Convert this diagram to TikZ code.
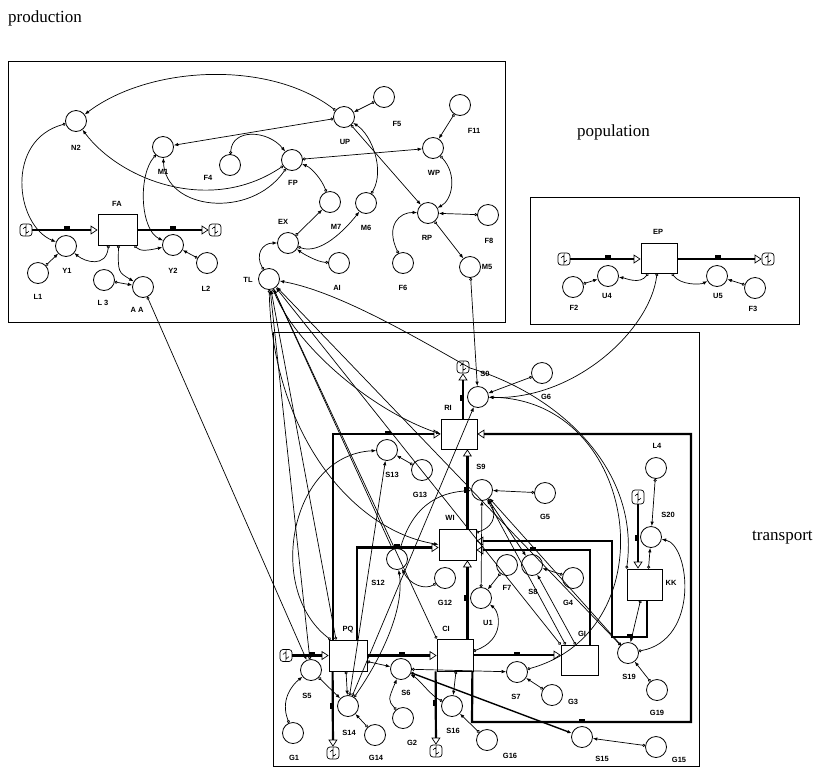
\documentclass[tikz,border=0pt]{standalone}
\usepackage{fontspec}
\setmainfont{Liberation Serif}
\setsansfont{Liberation Sans}
\usetikzlibrary{arrows.meta}
\begin{document}
\begin{tikzpicture}[x=1pt,y=-1pt,
 aux/.style={draw,circle,minimum size=21pt,inner sep=0pt,line width=0.8pt},
 stock/.style={draw,rectangle,inner sep=0pt,line width=0.8pt},
 lab/.style={font=\sffamily\bfseries\fontsize{7.5}{8}\selectfont,inner sep=0pt},
 ttl/.style={font=\fontsize{17}{20}\selectfont,inner sep=0pt},
 frame/.style={draw,line width=0.9pt},
 pipe/.style={line width=2.2pt},
 pipeA/.style={pipe,-{Triangle[open,length=7pt,width=9pt,line width=0.7pt]}},
 src/.style={draw,rounded corners=3pt,minimum width=12pt,minimum height=12pt,inner sep=0pt,line width=0.7pt,fill=white,
   path picture={\draw[line width=0.6pt] ([shift={(-3pt,1pt)}]path picture bounding box.center) arc[start angle=180,end angle=0,radius=1.5pt] -- ++(0,-2pt) arc[start angle=180,end angle=360,radius=1.5pt];}},
 conn/.style={line width=0.7pt,{Circle[open,length=3pt,width=3pt]}-{Latex[length=4.5pt,width=3.5pt]}},
 valveh/.style={fill=black,inner sep=0pt,minimum width=6pt,minimum height=4pt},
 valvev/.style={fill=black,inner sep=0pt,minimum width=4pt,minimum height=6pt},
]
\useasboundingbox (0,0) rectangle (837,769);
% titles
\node[ttl,anchor=west] (tprod) at (8,18) {production};
\node[ttl,anchor=west] (tpop) at (577,132) {population};
\node[ttl,anchor=west] (ttra) at (752,538) {transport};
% frames
\draw[frame] (8,61) rectangle (505,322);
\draw[frame] (530,197) rectangle (799,324);
\draw[frame] (273,332) rectangle (699,766);
% ---------- production ----------
\foreach \n/\x/\y in {N2/76/121,M1/163/147,F4/230/165,Y1/66/246,L1/38/273,Y2/173/245,L2/207/263,L3/104/280,AA/143/287,TL/269/279,UP/344/117,F5/384/97,F11/460/105,WP/433/148,FP/292/160,M7/330/202,M6/366/203,EX/288/243,AI/339/263,RP/428/213,F8/488/215,F6/403/263,M5/470/267}
  \node[aux] (\n) at (\x,\y) {};
\node[stock,minimum width=39pt,minimum height=31pt] (FA) at (117.5,229.5) {};
\node[src] (C1) at (26,230) {};
\node[src] (C2) at (215,230) {};
% ---------- population ----------
\foreach \n/\x/\y in {U4/608/276,F2/573/287,U5/717/276,F3/755/288}
  \node[aux] (\n) at (\x,\y) {};
\node[stock,minimum width=36pt,minimum height=30pt] (EP) at (659,258) {};
\node[src] (C3) at (564,259) {};
\node[src] (C4) at (768,259) {};
% ---------- transport ----------
\foreach \n/\x/\y in {S0/478/397,G6/542/373,S13/387/450,G13/422/470,S9/482/490,G5/545/493,S12/397/559,G12/445/578,F7/507/565,S8/532/565,G4/573/578,U1/481/598,L4/656/468,S20/651/537,S5/311/670,G1/293/733,S14/348/706,G14/375/735,S6/401/669,G2/403/718,S16/452/706,G16/487/740,S7/517/672,G3/552/695,S19/628/653,G19/657/690,S15/582/737,G15/656/747}
  \node[aux] (\n) at (\x,\y) {};
\node[stock,minimum width=36pt,minimum height=30pt] (RI) at (459,434) {};
\node[stock,minimum width=37pt,minimum height=31pt] (WI) at (457.5,544.5) {};
\node[stock,minimum width=38pt,minimum height=31pt] (PQ) at (348,655.5) {};
\node[stock,minimum width=36pt,minimum height=32pt] (CI) at (455,655) {};
\node[stock,minimum width=37pt,minimum height=30pt] (GI) at (579.5,660) {};
\node[stock,minimum width=35pt,minimum height=31pt] (KK) at (644.5,584.5) {};
\node[src] (C5) at (463,367) {};
\node[src] (C6) at (286,655.5) {};
\node[src] (C7) at (333,753) {};
\node[src] (C8) at (436,751) {};
\node[src,minimum height=14pt] (C9) at (638,497) {};
% labels
\foreach \t/\x/\y in {N2/76/148,M1/163/172,F4/208/178,FA/117/204,Y1/67/271,L1/38/297,Y2/173/271,L2/206/289,L 3/103/303,A A/137/310,TL/248/280,UP/345/142,F5/397/124,F11/474/131,WP/434/173,FP/293/183,M7/336/227,M6/366/228,EX/283/222,AI/337/288,RP/427/238,F8/489/241,F6/403/288,M5/487/267,EP/658/232,U4/607/296,F2/574/308,U5/718/296,F3/753/309,S0/485/374,G6/546/397,RI/448/408,S13/392/475,G13/420/495,S9/481/467,G5/545/517,WI/450/518,S12/378/583,G12/445/603,F7/507/588,S8/533/592,G4/568/603,U1/488/623,L4/657/446,S20/668/515,KK/671/583,PQ/348/630,CI/446/629,GI/582/634,S5/307/696,G1/294/758,S14/349/733,G14/376/758,S6/406/693,G2/412/743,S16/453/731,G16/510/756,S7/516/697,G3/573/702,S19/629/677,G19/657/713,S15/602/759,G15/679/760}
  \node[lab] (l\x\y) at (\x,\y) {\t};
% ---------- pipes ----------
\draw[pipeA] (C1) -- (FA.west |- C1);
\draw[pipeA] (FA.east |- C2) -- (C2);
\draw[pipeA] (C3) -- (EP.west |- C3);
\draw[pipeA] (EP.east |- C4) -- (C4);
\draw[pipeA] ([xshift=4pt]RI.north) -- (C5);
\draw[pipeA] ([xshift=4pt]PQ.north west) |- (RI.west);
\draw[pipeA] ([xshift=28pt]PQ.north west) |- ([yshift=-3pt]WI.west);
\draw[pipeA] ([xshift=-6pt]CI.north east) -- ([xshift=-6pt]CI.north east |- WI.south);
\draw[pipeA] ([xshift=-9pt]WI.north east) -- ([xshift=-9pt]WI.north east |- RI.south);
\draw[pipeA] ([xshift=-1pt]CI.south east) -- (472,722) -- (691,722) -- (691,434) -- (RI.east);
\draw[pipeA] ([xshift=10.5pt]GI.north) -- (590,550) -- ([yshift=-5.5pt]WI.east);
\draw[pipeA] ([xshift=2.5pt]KK.south) -- (647,637) -- (612,637) -- (612,541) -- ([yshift=3.5pt]WI.east);
\draw[pipeA] (PQ.east) -- (PQ.east -| CI.west);
\draw[pipeA] (CI.east) -- (CI.east -| GI.west);
\draw[pipeA] (C6) -- (PQ.west);
\draw[pipeA] ([xshift=4pt]PQ.south west) -- (C7);
\draw[pipeA] ([xshift=-1pt]CI.south west) -- (C8);
\draw[pipeA] (C9) -- (C9 |- KK.north);
% valves
\foreach \v/\x/\y in {a/67/228,b/173/228,c/608/257,d/718/257,e/388/433,f/397/546,g/582/721,h/533/549,i/630/636,j/402/654,k/517/654,l/312/654}
  \node[valveh] (v\v) at (\x,\y) {};
\foreach \v/\x/\y in {m/462/398,n/466/598,o/466/490,p/332/706,q/435/703,r/637/538}
  \node[valvev] (v\v) at (\x,\y) {};
% ---------- connectors: production ----------
\draw[conn] (UP) .. controls (270,60) and (150,65) .. (N2);
\draw[conn] (FP) .. controls (210,215) and (120,180) .. (N2);
\draw[conn] (UP) -- (M1);
\draw[conn] (F4) .. controls (232,128) and (268,130) .. (FP);
\draw[conn] (FP) .. controls (250,220) and (165,210) .. (M1);
\draw[conn] (N2) .. controls (5,140) and (15,225) .. (Y1);
\draw[conn] (M1) .. controls (138,175) and (140,230) .. (Y2);
\draw[conn] (L1) -- (Y1);
\draw[conn] ([xshift=-9pt]FA.south) .. controls (106,268) and (85,262) .. (Y1);
\draw[conn] ([xshift=17pt]FA.south) .. controls (140,252) and (150,250) .. (Y2);
\draw[conn] ([xshift=1pt]FA.south) .. controls (118,272) .. (AA);
\draw[conn] (L3) -- (AA);
\draw[conn] (L2) -- (Y2);
\draw[conn] (AA) -- (S5);
\draw[conn] (F5) -- (UP);
\draw[conn] (FP) -- (WP);
\draw[conn] (UP) -- (RP);
\draw[conn] (M6) .. controls (385,170) and (372,135) .. (UP);
\draw[conn] (F11) -- (WP);
\draw[conn] (WP) .. controls (458,175) and (452,200) .. (RP);
\draw[conn] (F8) -- (RP);
\draw[conn] (F6) .. controls (385,225) and (400,212) .. (RP);
\draw[conn] (RP) -- (M5);
\draw[conn] (M7) .. controls (322,180) and (312,168) .. (FP);
\draw[conn] (EX) -- (M7);
\draw[conn] (EX) .. controls (320,255) and (345,230) .. (M6);
\draw[conn] (AI) .. controls (318,262) and (305,255) .. (EX);
\draw[conn] (TL) .. controls (255,255) and (262,243) .. (EX);
\draw[conn] (M5) -- (S0);
% ---------- connectors: population ----------
\draw[conn] (F2) -- (U4);
\draw[conn] (F3) -- (U5);
\draw[conn] ([xshift=-11pt]EP.south) .. controls (640,285) and (625,278) .. (U4);
\draw[conn] ([xshift=13pt]EP.south) .. controls (680,285) and (700,285) .. (U5);
\draw[conn] ([xshift=-2pt]EP.south) .. controls (650,330) and (575,400) .. (S0);
% ---------- connectors: transport ----------
\draw[conn] (G6) -- (S0);
\draw[conn] (KK.north west) .. controls (640,470) and (560,395) .. (470,368) .. controls (420,340) and (340,292) .. (TL);
\draw[conn] (S7) .. controls (670,630) and (640,400) .. (S0);
\draw[conn] (G13) -- (S13);
\draw[conn] ([xshift=2pt]PQ.north west) .. controls (265,590) and (290,455) .. (S13);
\draw[conn] (S14) -- (S13);
\draw[conn] (S14) -- (S0);
\draw[conn] (G5) -- (S9);
\draw[conn] (U1) -- (S9);
\draw[conn] ([yshift=-4pt]WI.north east) .. controls (498,525) and (495,510) .. (S9);
\draw[conn] ([xshift=-14pt]GI.north) -- (S9);
\draw[conn] (S19) -- (S9);
\draw[conn] (S9) -- (S8);
\draw[conn] (G4) -- (S8);
\draw[conn] ([xshift=-4pt]GI.north) -- (S8);
\draw[conn] (F7) -- (U1);
\draw[conn] ([yshift=4pt]CI.east) .. controls (505,640) and (500,612) .. (U1);
\draw[conn] (G12) .. controls (425,590) and (410,585) .. (S12);
\draw[conn] (S14) .. controls (380,660) and (405,610) .. (S12);
\draw[conn] (S12) .. controls (415,500) and (445,492) .. (S9);
\draw[conn] (TL) .. controls (295,345) and (370,410) .. (RI.west);
\draw[conn] (TL) .. controls (272,430) and (350,530) .. (WI.west);
\draw[conn] ([xshift=-12pt]PQ.north) -- (TL);
\draw[conn] (S5) -- (TL);
\draw[conn] (S12) -- (TL);
\draw[conn] (GI.north west) -- (TL);
\draw[conn] (S19) -- (TL);
\draw[conn] (CI.north west) -- (TL);
\draw[conn] (G1) .. controls (280,700) and (292,685) .. (S5);
\draw[conn] ([xshift=-2pt]PQ.south) -- (S14);
\draw[conn] (S5) -- (S14);
\draw[conn] (G14) -- (S14);
\draw[conn] (G2) .. controls (388,700) .. (S6);
\draw[conn] ([yshift=-6pt]PQ.east) -- (S6);
\draw[conn] (S16) .. controls (430,695) and (420,680) .. (S6);
\draw[conn] ([xshift=1pt]CI.south) -- (S16);
\draw[conn] (G16) -- (S16);
\draw[conn,line width=1.4pt] (S6) -- (S15);
\draw[conn] (G15) -- (S15);
\draw[conn] (S6) -- (S7);
\draw[conn] (G3) -- (S7);
\draw[conn] (G19) -- (S19);
\draw[conn] ([xshift=-4pt]KK.south) -- (S19);
\draw[conn] (S19) .. controls (700,640) and (690,545) .. (S20);
\draw[conn] (L4) -- (S20);
\draw[conn] ([xshift=4pt]KK.north) -- (S20);
\end{tikzpicture}
\end{document}
